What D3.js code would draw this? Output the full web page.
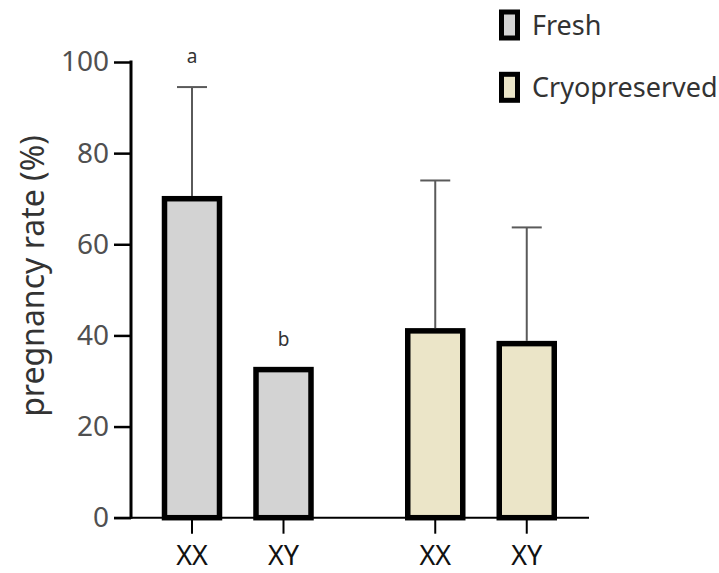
<!DOCTYPE html>
<html>
<head>
<meta charset="utf-8">
<script src="https://cdn.jsdelivr.net/npm/d3@7"></script>
<style>
  body { margin: 0; background: #fff; }
  text { font-family: "Noto Sans", sans-serif; }
</style>
</head>
<body>
<div id="content"></div>
<script>
const w = 719
const h = 573

// data
const groups = ["Fresh", "Cryopreserved"];
const genotypes = ["XX", "XY"];
const freshRate = [70, 32.5];
const freshErr = [24.5, 0];
const cryoRate = [41, 38.2];
const cryoErr = [33, 25.5];
const letters = [["a", "b"], ["", ""]];
const yTicks = [0, 20, 40, 60, 80, 100];

const colors = {Fresh: "#d3d3d3", Cryopreserved: "#ebe5c8"};

let rows = [];
genotypes.forEach((g, i) => rows.push({group: "Fresh", geno: g, rate: freshRate[i], err: freshErr[i], letter: letters[0][i]}));
genotypes.forEach((g, i) => rows.push({group: "Cryopreserved", geno: g, rate: cryoRate[i], err: cryoErr[i], letter: letters[1][i]}));

let svg = d3.select("#content")
            .append("svg")
            .attr("width", w)
            .attr("height", h)

let y = d3.scaleLinear()
  .domain([0, 100])
  .range([517.7, 62]);

let x0 = d3.scalePoint()
  .domain(groups)
  .range([237.75, 481]);

let x1 = d3.scalePoint()
  .domain(genotypes)
  .range([-45.75, 45.75]);

const xc = (d) => x0(d.group) + x1(d.geno);
const barW = 55;

// x axis baseline
svg.append("line")
  .attr("x1", 114).attr("x2", 589)
  .attr("y1", y(0)).attr("y2", y(0))
  .attr("stroke", "#000").attr("stroke-width", 2);

// bars
svg.selectAll("rect.bar")
  .data(rows)
  .enter()
  .append("rect")
    .attr("class", "bar")
    .attr("x", (d) => xc(d) - barW / 2)
    .attr("y", (d) => y(d.rate))
    .attr("width", barW)
    .attr("height", (d) => y(0) - y(d.rate))
    .attr("fill", (d) => colors[d.group])
    .attr("stroke", "#000")
    .attr("stroke-width", 5.5);

// error bars (upper only)
let eb = svg.selectAll("g.err")
  .data(rows.filter((d) => d.err > 0))
  .enter()
  .append("g")
    .attr("class", "err");

eb.append("line")
  .attr("x1", xc).attr("x2", xc)
  .attr("y1", (d) => y(d.rate) - 2.75)
  .attr("y2", (d) => y(d.rate + d.err))
  .attr("stroke", "#5a5a5a").attr("stroke-width", 2);

eb.append("line")
  .attr("x1", (d) => xc(d) - 15).attr("x2", (d) => xc(d) + 15)
  .attr("y1", (d) => y(d.rate + d.err))
  .attr("y2", (d) => y(d.rate + d.err))
  .attr("stroke", "#5a5a5a").attr("stroke-width", 2);

// significance letters
svg.selectAll("text.letter")
  .data(rows.filter((d) => d.letter))
  .enter()
  .append("text")
    .attr("class", "letter")
    .attr("x", xc)
    .attr("y", (d) => y(d.rate + d.err) - 24)
    .attr("text-anchor", "middle")
    .attr("font-size", 19)
    .attr("fill", "#333")
    .text((d) => d.letter);

// x ticks + labels
svg.selectAll("line.xtick")
  .data(rows)
  .enter()
  .append("line")
    .attr("class", "xtick")
    .attr("x1", xc).attr("x2", xc)
    .attr("y1", y(0)).attr("y2", y(0) + 16)
    .attr("stroke", "#000").attr("stroke-width", 2);

svg.selectAll("text.xlab")
  .data(rows)
  .enter()
  .append("text")
    .attr("class", "xlab")
    .attr("x", xc)
    .attr("y", 565)
    .attr("text-anchor", "middle")
    .attr("font-size", 27)
    .attr("fill", "#111")
    .text((d) => d.geno);

// y axis
let yAxis = svg.append("g")
  .attr("class", "y axis")
  .attr("transform", "translate(131,0)")
  .call(d3.axisLeft(y).tickValues(yTicks).tickSize(17).tickSizeOuter(0).tickPadding(5));

yAxis.select(".domain")
  .attr("stroke", "#000").attr("stroke-width", 3)
  .attr("d", "M0," + (y(0) + 1) + "V" + (y(100) - 1.5));
yAxis.selectAll(".tick line").attr("stroke", "#000").attr("stroke-width", 2.5);
yAxis.selectAll(".tick text")
  .attr("font-size", 28)
  .attr("fill", "#505050")
  .style("font-family", "'Noto Sans', sans-serif");

svg.append("text")
  .attr("transform", "translate(44,276) rotate(-90)")
  .attr("text-anchor", "middle")
  .attr("font-size", 32)
  .attr("fill", "#333")
  .text("pregnancy rate (%)");

// legend
let leg = svg.selectAll("g.legend")
  .data(groups)
  .enter()
  .append("g")
    .attr("class", "legend")
    .attr("transform", (d, i) => "translate(499," + (9.5 + i * 62.3) + ")");

leg.append("rect")
  .attr("x", 2.5).attr("y", 2.5)
  .attr("width", 16).attr("height", 26)
  .attr("fill", (d) => colors[d])
  .attr("stroke", "#000").attr("stroke-width", 5);

leg.append("text")
  .attr("x", 33)
  .attr("y", 25.5)
  .attr("font-size", 27)
  .attr("fill", "#333")
  .text((d) => d);
</script>
</body>
</html>
